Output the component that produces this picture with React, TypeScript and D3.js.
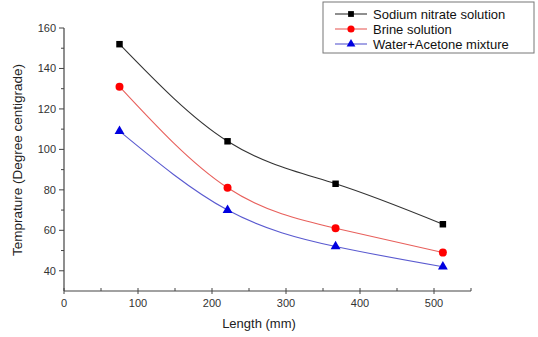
import React, { useEffect, useRef } from 'react';
import * as d3 from 'd3';

const lengths = [75, 221, 367, 512];
const sodiumNitrate = [152, 104, 83, 63];
const brine = [131, 81, 61, 49];
const waterAcetone = [109, 70, 52, 42];
const xTicks = [0, 100, 200, 300, 400, 500];
const yTicks = [40, 60, 80, 100, 120, 140, 160];

const seriesList = [
  { name: 'Sodium nitrate solution', values: sodiumNitrate, line: '#333333', fill: '#000000', symbol: d3.symbolSquare, size: 42 },
  { name: 'Brine solution', values: brine, line: '#e8605c', fill: '#ff0000', symbol: d3.symbolCircle, size: 50 },
  { name: 'Water+Acetone mixture', values: waterAcetone, line: '#5a5ad0', fill: '#0000e0', symbol: d3.symbolTriangle, size: 42 },
];

const App: React.FC = () => {
  const svgRef = useRef<SVGSVGElement>(null);

  useEffect(() => {
    if (!svgRef.current) return;
    const svg = d3.select(svgRef.current);
    svg.selectAll('*').remove();

    const x = d3.scaleLinear().domain([0, 550]).range([64, 471]);
    const y = d3.scaleLinear().domain([30, 160]).range([291, 28]);
    const axisColor = '#444';
    const font = 'Arial, "Liberation Sans", sans-serif';

    // Axes lines
    svg.append('line').attr('x1', x(0)).attr('x2', x(550)).attr('y1', y(30)).attr('y2', y(30))
      .attr('stroke', axisColor).attr('stroke-width', 1.2);
    svg.append('line').attr('x1', x(0)).attr('x2', x(0)).attr('y1', y(30)).attr('y2', y(160))
      .attr('stroke', axisColor).attr('stroke-width', 1.2);

    // X ticks
    const xMinor = d3.range(50, 551, 100);
    svg.selectAll('.xmaj').data(xTicks).enter().append('line')
      .attr('x1', d => x(d)).attr('x2', d => x(d))
      .attr('y1', y(30) - 3).attr('y2', y(30) + 3)
      .attr('stroke', axisColor);
    svg.selectAll('.xmin').data(xMinor).enter().append('line')
      .attr('x1', d => x(d)).attr('x2', d => x(d))
      .attr('y1', y(30) - 3).attr('y2', y(30))
      .attr('stroke', axisColor);
    svg.selectAll('.xlab').data(xTicks).enter().append('text')
      .attr('x', d => x(d)).attr('y', y(30) + 16)
      .attr('text-anchor', 'middle').attr('font-family', font).attr('font-size', 11)
      .attr('fill', '#333').text(d => d);

    // Y ticks
    const yMinor = d3.range(50, 160, 20);
    svg.selectAll('.ymaj').data(yTicks).enter().append('line')
      .attr('x1', x(0) - 5).attr('x2', x(0))
      .attr('y1', d => y(d)).attr('y2', d => y(d))
      .attr('stroke', axisColor);
    svg.selectAll('.ymin').data(yMinor).enter().append('line')
      .attr('x1', x(0) - 3).attr('x2', x(0))
      .attr('y1', d => y(d)).attr('y2', d => y(d))
      .attr('stroke', axisColor);
    svg.selectAll('.ylab').data(yTicks).enter().append('text')
      .attr('x', x(0) - 8).attr('y', d => y(d) + 4)
      .attr('text-anchor', 'end').attr('font-family', font).attr('font-size', 11)
      .attr('fill', '#333').text(d => d);

    // Axis titles
    svg.append('text').attr('x', 259).attr('y', 328)
      .attr('text-anchor', 'middle').attr('font-family', font).attr('font-size', 13)
      .attr('fill', '#222').text('Length (mm)');
    svg.append('text').attr('transform', 'translate(22,160) rotate(-90)')
      .attr('text-anchor', 'middle').attr('font-family', font).attr('font-size', 13.5)
      .attr('fill', '#222').text('Temprature (Degree centigrade)');

    // Lines
    const line = d3.line<number>()
      .x((_, i) => x(lengths[i]))
      .y(d => y(d))
      .curve(d3.curveNatural);

    seriesList.forEach(s => {
      svg.append('path').datum(s.values)
        .attr('d', line).attr('fill', 'none')
        .attr('stroke', s.line).attr('stroke-width', 1.1);
      svg.selectAll(null).data(s.values).enter().append('path')
        .attr('transform', (d, i) => `translate(${x(lengths[i])},${y(d)})`)
        .attr('d', d3.symbol().type(s.symbol).size(s.size)())
        .attr('fill', s.fill);
    });

    // Legend
    const lg = svg.append('g');
    lg.append('rect').attr('x', 323).attr('y', 2).attr('width', 211).attr('height', 51)
      .attr('fill', 'white').attr('stroke', '#777').attr('stroke-width', 1);
    seriesList.forEach((s, i) => {
      const cy = 14 + i * 15;
      lg.append('line').attr('x1', 335).attr('x2', 367).attr('y1', cy).attr('y2', cy)
        .attr('stroke', s.line).attr('stroke-width', 1.1);
      lg.append('path').attr('transform', `translate(351,${cy})`)
        .attr('d', d3.symbol().type(s.symbol).size(s.size * 0.8)())
        .attr('fill', s.fill);
      lg.append('text').attr('x', 373).attr('y', cy + 4.5)
        .attr('font-family', font).attr('font-size', 13).attr('fill', '#111')
        .text(s.name);
    });
  }, []);

  return (
    <svg ref={svgRef} width={538} height={337} viewBox="0 0 538 337"
      style={{ position: 'absolute', left: 0, top: 0, background: 'white' }} />
  );
};

export default App;
